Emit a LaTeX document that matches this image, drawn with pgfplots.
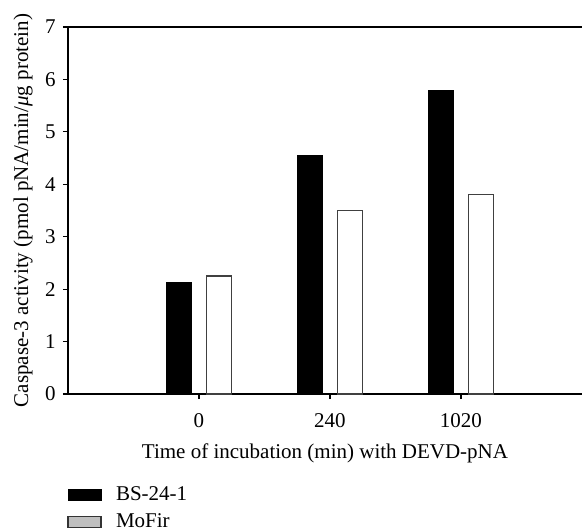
\documentclass[border=0pt]{standalone}
\usepackage{fontspec}
\setmainfont{Liberation Serif}
\usepackage{pgfplots}
\pgfplotsset{compat=1.18}
\begin{document}
\fontsize{10.5pt}{12.6pt}\selectfont
\begin{tikzpicture}
\begin{axis}[
  name=ax, at={(0,0)}, anchor=south west,
  scale only axis, width=257pt, height=183.5pt,
  xmin=0, xmax=3.924, ymin=0, ymax=7,
  axis x line*=box, axis y line*=left,
  axis line style={line width=0.6pt, black},
  xtick={1,2,3}, xticklabels={0,240,1020},
  ytick={0,1,2,3,4,5,6,7},
  xtick pos=bottom, ytick pos=left,
  tick align=outside, major tick length=2.5pt,
  tick style={line width=0.6pt, black},
  /pgf/number format/assume math mode=true,
  xticklabel style={yshift=-3.5pt},
  xlabel={Time of incubation (min) with DEVD-pNA},
  ylabel={Caspase-3 activity (pmol pNA/min/\textit{μ}g protein)},
  xlabel style={yshift=-1pt},
  ylabel style={yshift=-1pt},
  ybar, bar width=12.5pt,
  legend style={draw=none, fill=none, inner sep=0pt, at={(0,0)}, anchor=north west, xshift=-0.5pt, yshift=-44pt, row sep=1pt, font=\fontsize{10.5pt}{12.6pt}\selectfont},
  legend cell align=left,
  legend image code/.code={\draw[#1] (0pt,-2.75pt) rectangle (16.5pt,2.75pt); \path[draw=none, fill=none] (16.5pt,0pt) -- (22pt,0pt);},
]
\addplot[forget plot, bar shift=-10pt, fill=black, draw=black, line width=0.4pt] coordinates {(1,2.13) (2,4.55) (3,5.79)};
\addplot[forget plot, bar shift=10pt, fill=white, draw=black!75, line width=0.6pt] coordinates {(1,2.25) (2,3.50) (3,3.80)};
\addlegendimage{fill=black, draw=black, line width=0.4pt}
\addlegendentry{BS-24-1}
\addlegendimage{fill=black!25, draw=black!80, line width=0.6pt}
\addlegendentry{MoFir}
\end{axis}
\pgfresetboundingbox
\path[use as bounding box] (-34pt,-68.5pt) rectangle (257pt,197pt);
\end{tikzpicture}
\end{document}
